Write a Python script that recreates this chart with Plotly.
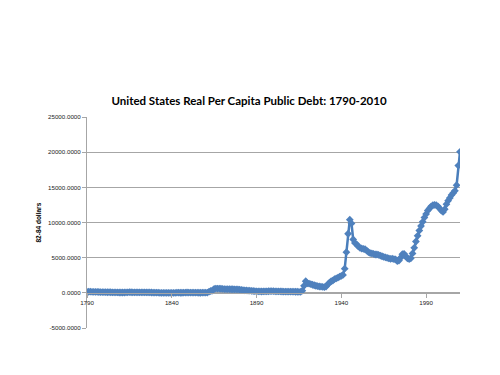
import plotly.graph_objects as go

years = list(range(1790, 2011))
debt_per_capita = [
    150, 155, 160, 150, 140, 135, 125, 120, 110, 105,
    100, 95, 85, 90, 85, 75, 70, 60, 55, 50,
    48, 45, 50, 60, 75, 90, 85, 75, 70, 72,
    73, 75, 70, 70, 70, 65, 60, 55, 50, 40,
    34, 26, 18, 8, 3, 1, 1, 1, 2, 2,
    2, 4, 8, 18, 16, 12, 10, 25, 40, 45,
    40, 38, 36, 30, 22, 16, 12, 11, 18, 22,
    23, 31, 160, 264, 335, 560, 600, 600, 590, 580,
    560, 540, 520, 520, 520, 510, 510, 500, 490, 480,
    460, 430, 390, 360, 340, 320, 300, 280, 260, 230,
    220, 210, 200, 190, 200, 210, 220, 225, 230, 240,
    230, 220, 210, 200, 195, 190, 185, 180, 175, 170,
    165, 160, 160, 155, 155, 150, 150, 300, 1000, 1650,
    1350, 1300, 1250, 1150, 1080, 1010, 950, 900, 870, 850,
    800, 900, 1200, 1450, 1650, 1750, 1950, 2050, 2150, 2300,
    2400, 2550, 3440, 5780, 8400, 10400, 9870, 7600, 7100, 6900,
    6600, 6400, 6300, 6250, 6200, 6000, 5800, 5650, 5600, 5550,
    5450, 5450, 5400, 5300, 5200, 5100, 5050, 4980, 4900, 4820,
    4850, 4800, 4750, 4500, 4600, 5000, 5500, 5550, 5200, 4900,
    4800, 4900, 5600, 6400, 7300, 8100, 8850, 9500, 10100, 10700,
    11200, 11700, 12000, 12300, 12450, 12500, 12450, 12300, 12000, 11700,
    11500, 11900, 12600, 13100, 13500, 13900, 14200, 14500, 15300, 18100, 20050,
]
x_tick_years = [1790, 1840, 1890, 1940, 1990]
y_ticks = [-5000, 0, 5000, 10000, 15000, 20000, 25000]
title_text = "United States Real Per Capita Public Debt: 1790-2010"
y_title = "82-84 dollars"

fig = go.Figure(go.Scatter(
    x=years, y=debt_per_capita, mode="lines+markers",
    line=dict(color="#4A7EBB", width=2.5),
    marker=dict(symbol="diamond", size=6, color="#4F81BD"),
))

grid = "#A6A6A6"
fig.update_layout(
    width=500, height=375,
    margin=dict(l=79, r=48, t=109, b=55),
    paper_bgcolor="white", plot_bgcolor="white",
    showlegend=False,
    title=dict(text="<b>" + title_text + "</b>", x=241 / 500, xref="container",
               y=1 - 93 / 375, yref="container", yanchor="middle", xanchor="center",
               font=dict(family="Lato", size=11.5, color="#000000")),
    xaxis=dict(range=[1790, 2010], tickvals=x_tick_years,
               ticktext=[str(v) for v in x_tick_years],
               anchor="free", position=1 / 6,
               showgrid=False, zeroline=False, showline=True, linecolor=grid, linewidth=1,
               ticks="outside", ticklen=4, tickcolor=grid,
               tickfont=dict(family="Liberation Sans", size=6.2, color="#222222")),
    yaxis=dict(range=[-5000, 25000], tickvals=y_ticks,
               ticktext=[f"{v:.4f}" for v in y_ticks],
               showgrid=True, gridcolor=grid, gridwidth=1, zeroline=False,
               showline=True, linecolor=grid, linewidth=1,
               ticks="outside", ticklen=4, tickcolor=grid,
               tickfont=dict(family="Liberation Sans", size=6.2, color="#222222")),
    annotations=[dict(text="<b>" + y_title + "</b>", textangle=-90,
                      xref="paper", yref="paper", x=(38 - 87) / 373, y=0.5,
                      xanchor="center", yanchor="middle", showarrow=False,
                      font=dict(family="Liberation Sans", size=6.5, color="#000000"))],
)

fig.write_html("out.html")
